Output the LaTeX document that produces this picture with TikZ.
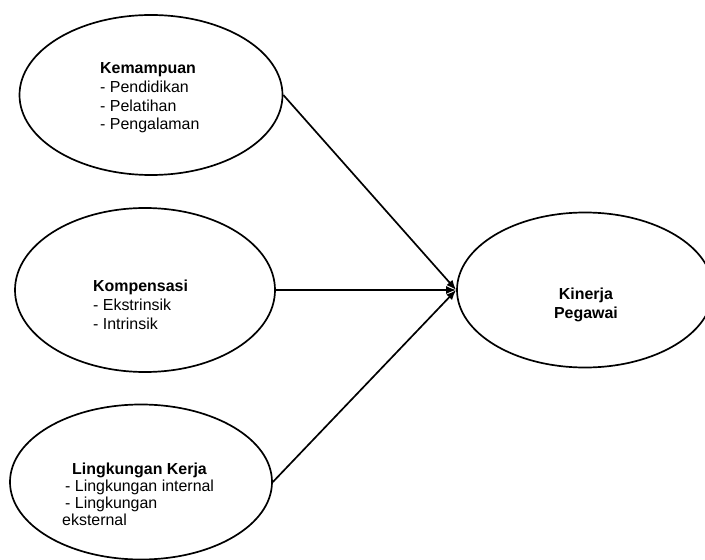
\documentclass[tikz,border=0pt]{standalone}
\usepackage{fontspec}
\setmainfont{Liberation Sans}
\usetikzlibrary{arrows.meta,shapes.geometric}
\tikzset{
 oval/.style={draw,ellipse,line width=1.7pt,inner sep=0pt},
 txt/.style={align=left,inner sep=0pt,font=\fontsize{16}{19}\selectfont},
 arr/.style={-{Latex[length=10pt,width=8pt]},line width=1.7pt}
}
\begin{document}
\begin{tikzpicture}[x=1bp,y=-1bp]
\useasboundingbox (0,0) rectangle (705,560);
\clip (0,0) rectangle (705,560);
\node[oval,minimum width=263bp,minimum height=160bp] (kem) at (151,95) {};
\node[oval,minimum width=260bp,minimum height=164bp] (kom) at (145,290) {};
\node[oval,minimum width=262bp,minimum height=155bp] (lk) at (141,482) {};
\node[oval,minimum width=256bp,minimum height=155bp] (kin) at (585,290) {};
\node[txt,anchor=base west] (kemtxt) at (100,130) {\textbf{Kemampuan}\\- Pendidikan\\- Pelatihan\\- Pengalaman};
\node[txt,anchor=base west] (komtxt) at (93,329) {\textbf{Kompensasi}\\- Ekstrinsik\\- Intrinsik};
\node[txt,anchor=base west,font=\fontsize{16}{17}\selectfont] (lktxt) at (62,525) {\hspace{10bp}\textbf{Lingkungan Kerja}\\\hspace{3bp}- Lingkungan internal\\\hspace{3bp}- Lingkungan\\eksternal};
\node[txt,align=center,anchor=base] (kintxt) at (586,318) {\textbf{Kinerja}\\\textbf{Pegawai}};
\foreach \s in {kem,kom,lk} \draw[arr] (\s.east)--(kin.west);
\end{tikzpicture}
\end{document}
